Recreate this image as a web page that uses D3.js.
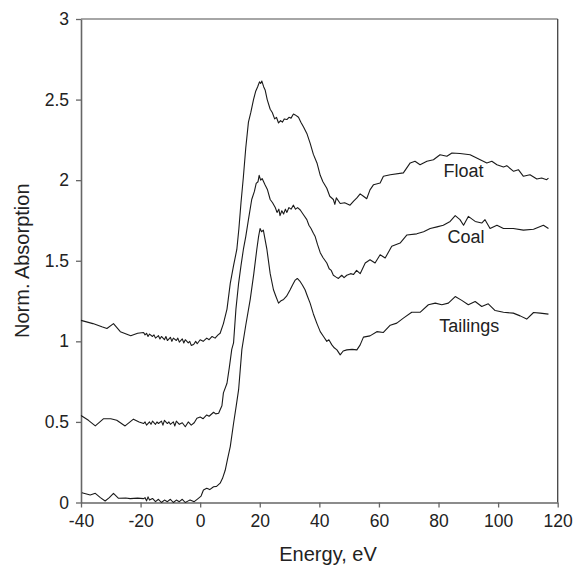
<!DOCTYPE html>
<html>
<head>
<meta charset="utf-8">
<script src="https://cdn.jsdelivr.net/npm/d3@7"></script>
<style>
  html, body { margin: 0; padding: 0; background: #fff; }
  svg { display: block; }
  text { font-family: "Liberation Sans", Arial, sans-serif; fill: #222; }
</style>
</head>
<body>
<svg id="chart" width="576" height="565"></svg>
<script>
// ---- data ----
const xTicks = [-40, -20, 0, 20, 40, 60, 80, 100, 120];
const xTickLabels = ["-40", "-20", "0", "20", "40", "60", "80", "100", "120"];
const yTicks = [0, 0.5, 1, 1.5, 2, 2.5, 3];
const yTickLabels = ["0", "0.5", "1", "1.5", "2", "2.5", "3"];
const seriesNames = ["Float", "Coal", "Tailings"];
const xTitle = "Energy, eV";
const yTitle = "Norm. Absorption";

const floatData = [
  [-40,1.13],[-36,1.11],[-33,1.09],[-31.3,1.08],[-29.1,1.11],[-26.8,1.06],[-23.3,1.035],[-21,1.05],[-19,1.055],
  [-18.5,1.04],[-18,1.05],[-17.5,1.03],[-17,1.045],[-16,1.03],[-15.5,1.04],[-15,1.02],[-14,1.035],[-13.5,1.015],[-13,1.03],
  [-12,1.01],[-11.5,1.03],[-11,1.005],[-10,1.025],[-9.5,1.0],[-9,1.02],[-8,1.005],[-7.5,1.02],[-7,0.995],[-6,1.015],
  [-5.5,0.99],[-5,1.01],[-4,0.99],[-3.5,1.0],[-3,0.975],[-2.2,0.98],[-1.5,1.0],[-1,0.985],[0,1.01],[1,1.0],[2.2,1.02],
  [3,1.01],[4,1.03],[5,1.02],[6,1.04],[6.7,1.05],[7.8,1.11],[9,1.2],[10.1,1.36],[11.2,1.47],[12.3,1.57],[13,1.7],
  [13.7,1.86],[14.5,2.02],[15.3,2.2],[16.2,2.36],[17,2.42],[17.9,2.5],[18.6,2.55],[19.3,2.58],[19.9,2.61],[20.3,2.6],
  [20.7,2.615],[21.3,2.58],[21.8,2.56],[22.5,2.5],[23.5,2.44],[24.2,2.42],[25,2.38],[25.6,2.39],[26.3,2.355],[27,2.37],
  [27.6,2.36],[28.2,2.38],[29.1,2.376],[29.8,2.39],[30.5,2.385],[31.3,2.41],[31.9,2.405],[33,2.39],[33.8,2.36],
  [34.7,2.33],[35.8,2.29],[36.9,2.23],[38,2.16],[39.2,2.107],[40.3,2.03],[41.2,1.99],[42.5,1.95],[43.5,1.9],
  [44.7,1.88],[45.2,1.85],[45.7,1.89],[47,1.855],[48.5,1.86],[50.3,1.845],[51.5,1.87],[52.6,1.89],[53.7,1.915],
  [54.8,1.9],[55.9,1.885],[57,1.94],[58.2,1.972],[60.4,1.982],[61.5,2.024],[63.8,2.034],[68.2,2.045],[70.5,2.107],
  [72.1,2.117],[73.8,2.096],[76.1,2.117],[78.3,2.127],[80.5,2.158],[82.8,2.148],[84.5,2.169],[87.2,2.165],
  [90.6,2.158],[94,2.127],[96.2,2.107],[97.9,2.117],[99.6,2.096],[101.8,2.082],[102.9,2.09],[105.2,2.055],
  [106.8,2.065],[108.5,2.024],[110.7,2.034],[113,2.007],[114.6,2.013],[116.3,2.003],[116.9,2.013]
];

const coalData = [
  [-40,0.54],[-37.5,0.51],[-35.2,0.475],[-32.4,0.52],[-30,0.52],[-28,0.51],[-25.2,0.475],[-22.4,0.517],[-20.5,0.5],
  [-19,0.49],[-18.5,0.5],[-18,0.48],[-17,0.5],[-16.5,0.485],[-16,0.505],[-15,0.485],[-14.5,0.5],[-14,0.49],
  [-13,0.505],[-12.5,0.48],[-12,0.51],[-11,0.49],[-10.5,0.5],[-10,0.485],[-9,0.5],[-8.5,0.475],[-8,0.505],
  [-7,0.485],[-6,0.495],[-5,0.47],[-4,0.5],[-3,0.48],[-2,0.495],[-1.1,0.523],[0,0.53],[1,0.52],[2.2,0.543],
  [3,0.535],[4.5,0.56],[5.2,0.55],[6.2,0.554],[6.7,0.575],[7.3,0.6],[7.8,0.68],[9,0.74],[9.8,0.84],[10.6,0.95],
  [11.2,0.99],[12,1.2],[12.9,1.36],[13.7,1.47],[14.5,1.57],[15.3,1.65],[16.2,1.755],[17.3,1.88],[18.2,1.93],
  [18.8,1.98],[19.4,1.99],[19.8,2.03],[20.3,2.0],[20.8,2.01],[21.8,1.97],[22.6,1.94],[23.5,1.88],[24.3,1.86],
  [25.2,1.83],[25.8,1.8],[26.4,1.82],[26.8,1.78],[27.4,1.81],[28,1.79],[28.6,1.82],[29.1,1.8],[29.8,1.83],
  [30.5,1.82],[31.3,1.845],[32,1.82],[32.7,1.83],[33.6,1.815],[34.5,1.79],[35.8,1.755],[36.5,1.72],[37.2,1.7],
  [38,1.67],[38.6,1.65],[39.4,1.6],[40.3,1.55],[41.2,1.52],[42.5,1.486],[43.3,1.45],[44,1.44],[44.7,1.41],
  [45.5,1.4],[46.4,1.39],[47.5,1.41],[48.3,1.395],[49.2,1.41],[50.5,1.42],[51.5,1.415],[52.5,1.44],[53.7,1.42],
  [55.4,1.486],[57,1.506],[58.7,1.486],[60.4,1.537],[62.1,1.517],[64.3,1.59],[67.1,1.61],[69.4,1.66],[72.7,1.667],
  [75,1.68],[77.2,1.70],[79.5,1.71],[81.6,1.72],[83.9,1.744],[85.6,1.78],[87.2,1.755],[88.4,1.72],[90,1.775],
  [92.3,1.744],[94.5,1.734],[95.6,1.755],[97.3,1.70],[99.6,1.72],[101.8,1.70],[105.1,1.70],[108.5,1.69],
  [111.9,1.695],[115.2,1.72],[116.9,1.70]
];

const tailingsData = [
  [-39.7,0.061],[-36.9,0.047],[-35.2,0.057],[-33.5,0.03],[-31.9,0.009],[-30.5,0.03],[-29.1,0.057],[-27.4,0.026],
  [-25,0.028],[-23.5,0.024],[-21,0.027],[-19,0.024],[-18.5,0.03],[-18,0.01],[-17.5,0.035],[-17,0.015],[-16,0.025],
  [-15,0.005],[-14,0.02],[-13,0.0],[-12,0.015],[-11,0.005],[-10,0.02],[-9,0.0],[-8,0.015],[-7,0.005],[-6,0.02],
  [-5,0.0],[-4,0.01],[-3.4,0.016],[-2,0.005],[-0.6,0.026],[0.3,0.04],[1.1,0.078],[2.2,0.088],[3.2,0.08],
  [4.5,0.098],[5.5,0.1],[6.7,0.12],[7.5,0.15],[8.4,0.2],[9.2,0.27],[10.1,0.347],[11.2,0.49],[12.1,0.6],[12.9,0.70],
  [14,0.95],[15.3,1.1],[16.8,1.26],[18,1.42],[19,1.57],[19.6,1.65],[20.1,1.70],[20.6,1.68],[21.2,1.69],[22.4,1.57],
  [23.5,1.42],[24.6,1.32],[25.4,1.28],[26.3,1.237],[27,1.25],[28,1.26],[29,1.28],[30.2,1.32],[31,1.35],[31.9,1.38],
  [32.6,1.39],[33.6,1.37],[34.3,1.35],[35.2,1.32],[36,1.28],[36.9,1.237],[38,1.17],[39.2,1.11],[40.3,1.06],
  [41.4,1.03],[42.5,1.0],[43.2,1.01],[44.2,0.978],[45,0.96],[45.9,0.947],[47,0.916],[48,0.94],[49.2,0.947],
  [51,0.95],[52.6,0.947],[53.7,0.978],[54.8,1.026],[57,1.034],[59.3,1.06],[61.5,1.055],[63.8,1.10],[66,1.113],
  [68.2,1.144],[71,1.18],[73.8,1.18],[76.6,1.227],[78.9,1.237],[81.1,1.227],[83.3,1.237],[85.6,1.278],[87.8,1.254],
  [90,1.227],[92.3,1.247],[94.5,1.216],[96.7,1.233],[99,1.191],[101.8,1.18],[105.1,1.175],[107.4,1.158],
  [109.6,1.138],[111.9,1.179],[114.1,1.175],[116.9,1.169]
];

const allSeries = [floatData, coalData, tailingsData];
// label anchor positions in data units (centre of the text)
const labelPos = [[88.4, 2.05], [89.2, 1.64], [90.3, 1.09]];

// ---- layout ----
const svg = d3.select("#chart");
const margin = { left: 81, right: 576 - 557.7, top: 19, bottom: 565 - 502.5 };
const W = 576, H = 565;

const x = d3.scaleLinear().domain([-40, 120]).range([margin.left, W - margin.right]);
const y = d3.scaleLinear().domain([0, 3]).range([H - margin.bottom, margin.top]);

const axisColor = "#666";

// frame (top and right)
svg.append("line")
  .attr("x1", x(-40)).attr("x2", x(120)).attr("y1", y(3)).attr("y2", y(3))
  .attr("stroke", "#888").attr("stroke-width", 1.3);
svg.append("line")
  .attr("x1", x(120)).attr("x2", x(120)).attr("y1", y(3)).attr("y2", y(0))
  .attr("stroke", "#444").attr("stroke-width", 1.3);

// axes
const gx = svg.append("g")
  .attr("transform", `translate(0,${y(0)})`)
  .call(d3.axisBottom(x).tickValues(xTicks).tickSize(5).tickSizeOuter(0).tickPadding(7)
        .tickFormat((d, i) => xTickLabels[i]));
const gy = svg.append("g")
  .attr("transform", `translate(${x(-40)},0)`)
  .call(d3.axisLeft(y).tickValues(yTicks).tickSize(5).tickSizeOuter(0).tickPadding(7)
        .tickFormat((d, i) => yTickLabels[i]));

[gx, gy].forEach(g => {
  g.select(".domain").attr("stroke", axisColor).attr("stroke-width", 1.6);
  g.selectAll(".tick line").attr("stroke", axisColor).attr("stroke-width", 1.3);
  g.selectAll(".tick text")
    .style("font-family", '"Liberation Sans", Arial, sans-serif')
    .style("font-size", "17.5px").attr("fill", "#222");
});

// lines
const line = d3.line().x(d => x(d[0])).y(d => y(d[1]));
svg.append("g").selectAll("path")
  .data(allSeries)
  .join("path")
  .attr("d", line)
  .attr("fill", "none")
  .attr("stroke", "#1a1a1a")
  .attr("stroke-width", 1.1)
  .attr("stroke-linejoin", "round");

// series labels
svg.append("g").selectAll("text")
  .data(seriesNames)
  .join("text")
  .attr("x", (d, i) => x(labelPos[i][0]))
  .attr("y", (d, i) => y(labelPos[i][1]))
  .attr("text-anchor", "middle")
  .attr("dominant-baseline", "middle")
  .style("font-size", "18px")
  .text(d => d);

// axis titles
svg.append("text")
  .attr("x", 328).attr("y", 561)
  .attr("text-anchor", "middle")
  .style("font-size", "20px")
  .text(xTitle);

svg.append("text")
  .attr("transform", `translate(29,${(y(0) + y(3)) / 2}) rotate(-90)`)
  .attr("text-anchor", "middle")
  .style("font-size", "20px")
  .text(yTitle);
</script>
</body>
</html>
